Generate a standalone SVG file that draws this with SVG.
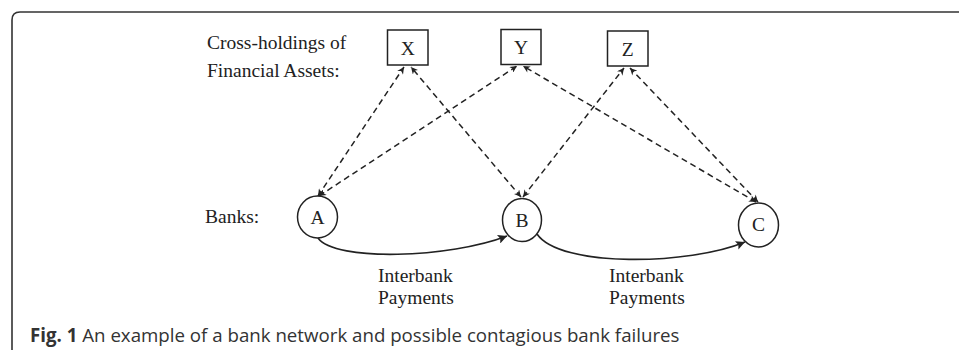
<svg xmlns="http://www.w3.org/2000/svg" width="959" height="350" viewBox="0 0 959 350">
<style>
.serif{font-family:"Liberation Serif","Times New Roman",serif;font-size:19.5px;fill:#222}
.node{fill:#fff;stroke:#222;stroke-width:1.5}
.dash{fill:none;stroke:#222;stroke-width:1.5;stroke-dasharray:6 4}
.solid{fill:none;stroke:#222;stroke-width:1.6}
.cap{font-family:"Open Sans","Noto Sans",sans-serif;font-size:18.7px;fill:#333}
</style>
<defs>
<marker id="sa" viewBox="0 0 10 10" refX="10" refY="5" markerWidth="8" markerHeight="7" markerUnits="userSpaceOnUse" orient="auto-start-reverse"><path d="M0,0 L10,5 L0,10 L3,5 z" fill="#222"/></marker>
<marker id="la" viewBox="0 0 10 10" refX="10" refY="5" markerWidth="12" markerHeight="9" markerUnits="userSpaceOnUse" orient="auto"><path d="M0,0 L10,5 L0,10 L2,5 z" fill="#222"/></marker>
</defs>
<rect width="959" height="350" fill="#fff"/>
<path d="M12,350 L12,20 Q12,12 20,12 L959,12" fill="none" stroke="#333" stroke-width="1.6"/>
<text class="serif" x="207" y="49">Cross-holdings of</text>
<text class="serif" x="207" y="77">Financial Assets:</text>
<text class="serif" x="205" y="223">Banks:</text>
<g id="connectors">
<line class="dash" x1="318" y1="196" x2="404" y2="67" marker-start="url(#sa)" marker-end="url(#sa)"/>
<line class="dash" x1="319" y1="196" x2="517" y2="66" marker-start="url(#sa)" marker-end="url(#sa)"/>
<line class="dash" x1="521" y1="197" x2="411" y2="67" marker-start="url(#sa)" marker-end="url(#sa)"/>
<line class="dash" x1="523" y1="197" x2="624" y2="68" marker-start="url(#sa)" marker-end="url(#sa)"/>
<line class="dash" x1="756" y1="202" x2="523" y2="66" marker-start="url(#sa)" marker-end="url(#sa)"/>
<line class="dash" x1="758" y1="202" x2="630" y2="68" marker-start="url(#sa)" marker-end="url(#sa)"/>
<path class="solid" d="M318,238 C335,262 450,258 507,236" marker-end="url(#la)"/>
<path class="solid" d="M537,234 C560,268 690,265 745,242" marker-end="url(#la)"/>
<text class="serif" x="378" y="282">Interbank</text>
<text class="serif" x="378" y="304">Payments</text>
<text class="serif" x="609" y="282">Interbank</text>
<text class="serif" x="609" y="304">Payments</text>
</g>
<g id="X"><rect class="node" x="387.5" y="30" width="40.5" height="35"/><text class="serif" x="407.7" y="55" text-anchor="middle">X</text></g>
<g id="Y"><rect class="node" x="501" y="29.5" width="40" height="35"/><text class="serif" x="521" y="54" text-anchor="middle">Y</text></g>
<g id="Z"><rect class="node" x="607.5" y="31" width="40.5" height="35"/><text class="serif" x="627.7" y="55.5" text-anchor="middle">Z</text></g>
<g id="A"><ellipse class="node" cx="317.5" cy="217" rx="20" ry="21"/><text class="serif" x="317.5" y="224" text-anchor="middle">A</text></g>
<g id="B"><ellipse class="node" cx="522" cy="220" rx="19.5" ry="21.5"/><text class="serif" x="522" y="227" text-anchor="middle">B</text></g>
<g id="C"><ellipse class="node" cx="758.5" cy="225" rx="20" ry="22"/><text class="serif" x="758.5" y="231" text-anchor="middle">C</text></g>
<text class="cap" x="30" y="342"><tspan font-weight="bold">Fig. 1</tspan> An example of a bank network and possible contagious bank failures</text>
</svg>
